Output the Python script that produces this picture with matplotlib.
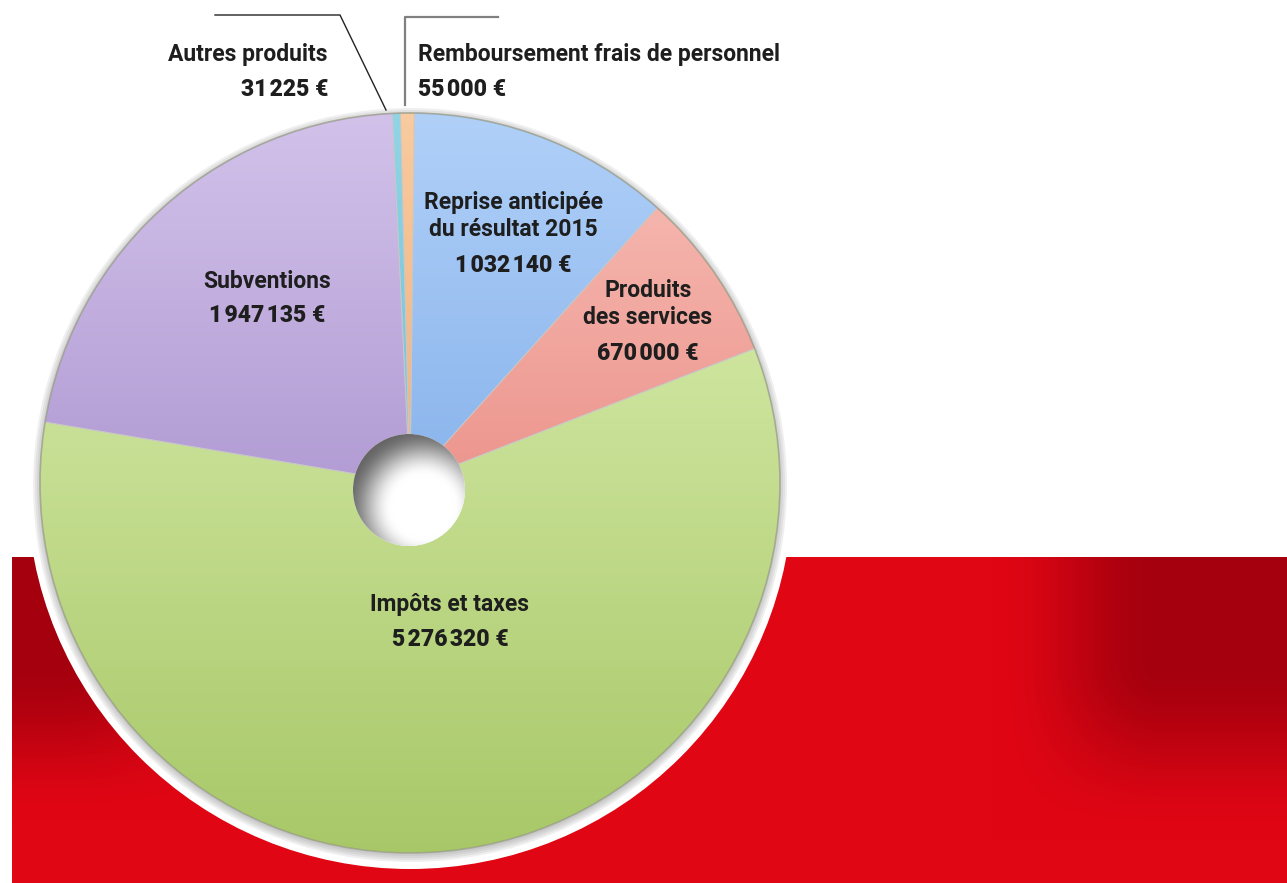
import numpy as np
import matplotlib
matplotlib.use('Agg')
import matplotlib.pyplot as plt
from matplotlib import font_manager
from matplotlib.patches import Circle, Wedge
from matplotlib.colors import to_rgb

# ---------------- data ----------------
categories = ["Remboursement frais de personnel",
              "Reprise anticipée\ndu résultat 2015",
              "Produits\ndes services",
              "Impôts et taxes",
              "Subventions",
              "Autres produits"]
values = [55000, 1032140, 670000, 5276320, 1947135, 31225]
value_labels = ["55\u200a000 €", "1\u200a032\u200a140 €", "670\u200a000 €",
                "5\u200a276\u200a320 €", "1\u200a947\u200a135 €", "31\u200a225 €"]
light_colors = ["#f8cba0", "#b0d0f8", "#f8c0b8", "#e0f2b8", "#d2c2ea", "#92d4e6"]
dark_colors = ["#e8955a", "#6398e0", "#e06a62", "#a8c868", "#9276be", "#4aaecb"]

# ---------------- layout ----------------
W, H = 1287, 883
def py(y):
    return H - y

names = {f.name for f in font_manager.fontManager.ttflist}
if 'Liberation Sans Narrow' in names:
    FAM = ['Liberation Sans Narrow', 'DejaVu Sans']
    FS = 17
    VW = 'bold'
else:
    FAM = ['Roboto', 'DejaVu Sans']
    FS = 16.5
    VW = 'black'
TXT = '#1e1e1e'

fig = plt.figure(figsize=(W / 100, H / 100), dpi=100)
fig.patch.set_facecolor('white')
ax = fig.add_axes([0, 0, 1, 1])

# ---------------- red band background ----------------
bx0, bx1, by0, by1 = 12, W, 557, H
xs = np.arange(bx0, bx1)
ys = np.arange(by0, by1)
X, Y = np.meshgrid(xs, ys)
def sstep(t):
    t = np.clip(t, 0, 1)
    return t * t * (3 - 2 * t)
left_d = sstep(1 - (X - 60) / 200) * sstep(1 - (Y - 660) / 160)
right_d = sstep((X - 990) / 170) * sstep(1 - (Y - 660) / 180)
d = np.maximum(left_d, right_d)
bright = np.array([225, 6, 20]) / 255
dark = np.array([165, 0, 14]) / 255
img = bright[None, None, :] * (1 - d[..., None]) + dark[None, None, :] * d[..., None]
ax.imshow(img, extent=[bx0, bx1, py(by1), py(by0)], origin='upper',
          interpolation='bilinear', zorder=0, aspect='auto')

# ---------------- pie ----------------
cx, cy, R = 410, py(483), 370

# white ring + soft shadow
ax.add_patch(Circle((cx, cy - 3), R + 13, facecolor='white', edgecolor='none', zorder=1))
for rr in [R + 7, R + 5, R + 3, R + 1]:
    ax.add_patch(Circle((cx, cy - 2), rr, facecolor='#808080', alpha=0.12,
                        edgecolor='none', zorder=1.5))

wedges, _ = ax.pie(values, colors=dark_colors, startangle=91.5, counterclock=False,
                   radius=R, center=(cx, cy), frame=True,
                   wedgeprops=dict(edgecolor='#d8d8d8', linewidth=0.8))
for w in wedges:
    w.set_zorder(2)
ax.set_xlim(0, W)
ax.set_ylim(0, H)
ax.set_aspect('equal')
ax.axis('off')

# vertical gradient shading inside each wedge
t = np.linspace(0, 1, 256)[:, None]
for w, lc, dc in zip(wedges, light_colors, dark_colors):
    l = np.array(to_rgb(lc)); dk = np.array(to_rgb(dc))
    g = l[None, :] * (1 - t) + dk[None, :] * t
    g = np.repeat(g[:, None, :], 2, axis=1)
    im = ax.imshow(g, extent=[cx - R, cx + R, cy - R, cy + R], origin='upper',
                   interpolation='bilinear', zorder=2.5, aspect='auto')
    im.set_clip_path(w)
    ax.add_patch(Wedge(w.center, w.r, w.theta1, w.theta2, facecolor='none',
                       edgecolor='#c8c8c8', linewidth=0.7, alpha=0.8, zorder=2.7))

# rim
ax.add_patch(Circle((cx, cy), R, facecolor='none', edgecolor='#7a8060',
                    linewidth=1.2, alpha=0.45, zorder=2.8))

# hole
hx, hy, hr = 409, py(490), 56
n = 200
u = np.linspace(-1, 1, n)
U, V = np.meshgrid(u, u)
dist = np.sqrt((U - 0.25) ** 2 + (V - 0.3) ** 2)
shade = 1 - 0.6 * sstep((dist - 0.55) / 0.85)
hole_img = np.repeat(shade[..., None], 3, axis=2)
hc = Circle((hx, hy), hr, facecolor='white', edgecolor='none', zorder=3)
ax.add_patch(hc)
him = ax.imshow(hole_img, extent=[hx - hr, hx + hr, hy - hr, hy + hr], origin='upper',
                interpolation='bilinear', zorder=3.1, aspect='auto')
him.set_clip_path(hc)

# ---------------- labels ----------------
def label(name, val, x, yname, yval, ha='center'):
    ax.text(x, py(yname), name, ha=ha, va='center', fontsize=FS, fontweight='bold',
            family=FAM, color=TXT, linespacing=1.2, zorder=5)
    ax.text(x, py(yval), val, ha=ha, va='center', fontsize=FS, fontweight=VW,
            family=FAM, color=TXT, zorder=5)

label(categories[0], value_labels[0], 418, 55, 90, ha='left')
label(categories[1], value_labels[1], 513, 216, 265)
label(categories[2], value_labels[2], 648, 304, 353)
label(categories[3], value_labels[3], 450, 605, 640)
label(categories[4], value_labels[4], 267, 281, 316)
label(categories[5], value_labels[5], 328, 55, 89, ha='right')

# leader lines
ax.plot([215, 340, 386], [py(15), py(15), py(110)], color='#222222', lw=1.0, zorder=4)
ax.plot([498, 405, 405], [py(17), py(17), py(105)], color='#808080', lw=1.6, zorder=4)

fig.savefig('out.png', dpi=100, facecolor='white')
